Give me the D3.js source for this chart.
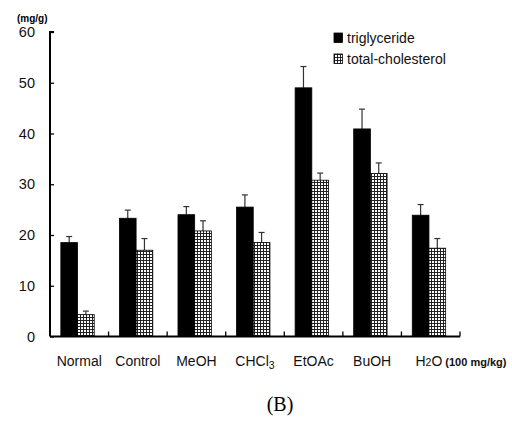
<!DOCTYPE html>
<html>
<head>
<meta charset="utf-8">
<script src="https://cdn.jsdelivr.net/npm/d3@7"></script>
<style>
	body { margin: 0; background: #fff; }
	svg { font-family: Arial, "Liberation Sans", sans-serif; }
</style>
</head>
<body>
<svg width="512" height="421"></svg>
<script>
// data
const groups = ["Normal", "Control", "MeOH", "CHCl3", "EtOAc", "BuOH", "H2O"]
const triglyceride = [18.5, 23.3, 24.0, 25.5, 49.0, 40.9, 23.9]
const triglycerideErr = [1.2, 1.6, 1.6, 2.4, 4.2, 3.9, 2.1]
const cholesterol = [4.3, 17.0, 20.8, 18.5, 30.8, 32.1, 17.4]
const cholesterolErr = [0.7, 2.3, 2.0, 2.0, 1.4, 2.1, 1.9]
const yTicks = [0, 10, 20, 30, 40, 50, 60]
const seriesNames = ["triglyceride", "total-cholesterol"]

var svg = d3.select("svg"),
	margin = { top: 32, right: 52, bottom: 84.5, left: 50 },
	width = 512 - margin.left - margin.right,
	height = 421 - margin.top - margin.bottom,
	g = svg.append("g")
		.attr("transform", "translate(" + margin.left + "," + margin.top + ")")

// checkered fill for cholesterol bars
var pat = svg.append("defs").append("pattern")
	.attr("id", "check")
	.attr("patternUnits", "userSpaceOnUse")
	.attr("width", 3).attr("height", 3)
pat.append("rect").attr("width", 3).attr("height", 3).attr("fill", "#222")
pat.append("rect").attr("x", 1).attr("y", 1).attr("width", 2).attr("height", 2).attr("fill", "#fff")

var x = d3.scaleBand().domain(groups).range([0, width])
var y = d3.scaleLinear().domain([0, 60]).range([height, 0])
var barW = x.bandwidth() * 0.285
var barOff = x.bandwidth() * 0.185

var series = [
	{ vals: triglyceride, errs: triglycerideErr, fill: "#000" },
	{ vals: cholesterol, errs: cholesterolErr, fill: "url(#check)" }
]

series.forEach(function (s, si) {
	var cell = g.append("g")
	var rows = groups.map(function (k, i) { return { k: k, v: s.vals[i], e: s.errs[i] } })

	// error bars, upward only
	cell.selectAll("line.err")
		.data(rows).enter().append("line")
		.attr("x1", function (d) { return x(d.k) + barOff + barW * si + barW / 2 })
		.attr("x2", function (d) { return x(d.k) + barOff + barW * si + barW / 2 })
		.attr("y1", function (d) { return y(d.v) })
		.attr("y2", function (d) { return y(d.v + d.e) })
		.attr("stroke", "#333").attr("stroke-width", 1.2)
	cell.selectAll("line.cap")
		.data(rows).enter().append("line")
		.attr("x1", function (d) { return x(d.k) + barOff + barW * si + barW / 2 - 3 })
		.attr("x2", function (d) { return x(d.k) + barOff + barW * si + barW / 2 + 3 })
		.attr("y1", function (d) { return y(d.v + d.e) })
		.attr("y2", function (d) { return y(d.v + d.e) })
		.attr("stroke", "#333").attr("stroke-width", 1.2)

	cell.selectAll("rect")
		.data(rows).enter().append("rect")
		.attr("x", function (d) { return x(d.k) + barOff + barW * si })
		.attr("y", function (d) { return y(d.v) })
		.attr("width", barW)
		.attr("height", function (d) { return height - y(d.v) })
		.attr("fill", s.fill)
		.attr("stroke", "#000").attr("stroke-width", 0.8)
})

// y axis, ticks pointing into the plot
var yAx = g.append("g")
	.call(d3.axisRight(y).tickValues(yTicks).tickSize(4).tickFormat(""))
yAx.select(".domain").attr("stroke-width", 2).attr("d", "M4,0H0V" + height)
yAx.selectAll(".tick line").attr("stroke-width", 1.3)
g.selectAll("text.ylab")
	.data(yTicks).enter().append("text")
	.attr("class", "ylab")
	.attr("x", -15).attr("y", function (d) { return y(d) + 5 })
	.attr("text-anchor", "end")
	.attr("font-size", 14.5)
	.attr("fill", "#111")
	.text(function (d) { return d })

svg.append("text")
	.attr("x", 17).attr("y", 22)
	.attr("font-size", 10).attr("font-weight", "bold")
	.text("(mg/g)")

// x axis with ticks at group boundaries
var bounds = groups.map(function (k) { return x(k) + x.bandwidth() })
var xAx = g.append("g").attr("transform", "translate(0," + height + ")")
xAx.append("line").attr("x1", 0).attr("x2", width).attr("stroke", "#000").attr("stroke-width", 2)
xAx.selectAll("line.tk")
	.data(bounds).enter().append("line")
	.attr("x1", function (d) { return d }).attr("x2", function (d) { return d })
	.attr("y1", 0).attr("y2", -5)
	.attr("stroke", "#000").attr("stroke-width", 1.3)

var labs = xAx.selectAll("text.xlab")
	.data(groups).enter().append("text")
	.attr("class", "xlab")
	.attr("x", function (d) { return x(d) + x.bandwidth() / 2 })
	.attr("y", 29)
	.attr("text-anchor", "middle")
	.attr("font-size", 14)
	.attr("fill", "#111")
labs.each(function (d) {
	var t = d3.select(this)
	if (d === "CHCl3") {
		t.append("tspan").text("CHCl")
		t.append("tspan").attr("font-size", 10.5).attr("dy", 3).text("3")
	} else if (d === "H2O") {
		t.attr("text-anchor", "start").attr("x", x(d) + 14)
		t.append("tspan").text("H")
		t.append("tspan").attr("font-size", 10.5).text("2")
		t.append("tspan").text("O")
		t.append("tspan").attr("font-size", 11).attr("font-weight", "bold").text(" (100 mg/kg)")
	} else {
		t.text(d)
	}
})

// legend
var leg = svg.append("g").attr("transform", "translate(334,33)")
seriesNames.forEach(function (n, i) {
	leg.append("rect")
		.attr("x", 0).attr("y", i * 21)
		.attr("width", 8.5).attr("height", 9.5)
		.attr("fill", series[i].fill)
		.attr("stroke", "#000").attr("stroke-width", 0.8)
	leg.append("text")
		.attr("x", 13).attr("y", i * 21 + 10)
		.attr("font-size", 14)
		.attr("fill", "#111")
		.text(n)
})

svg.append("text")
	.attr("x", 280).attr("y", 411)
	.attr("text-anchor", "middle")
	.attr("font-family", "'Liberation Serif', 'Times New Roman', serif")
	.attr("font-size", 20)
	.text("(B)")
</script>
</body>
</html>
